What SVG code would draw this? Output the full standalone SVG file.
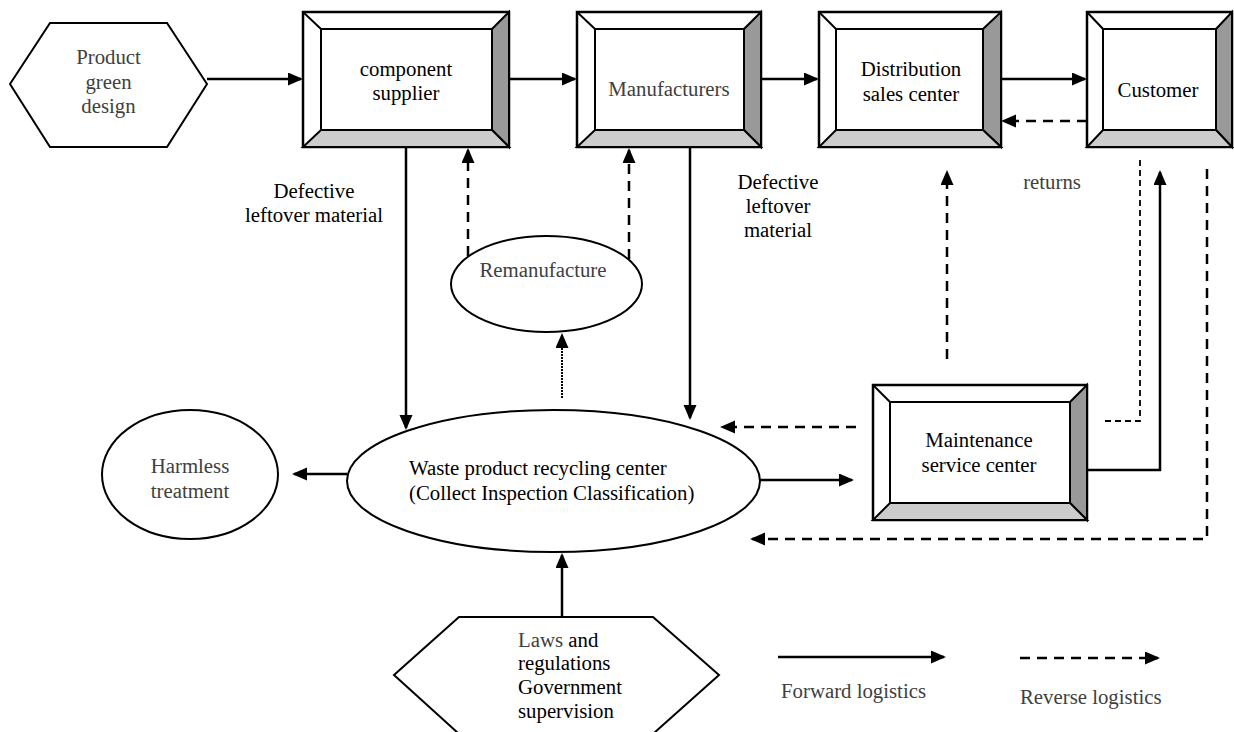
<svg xmlns="http://www.w3.org/2000/svg" width="1234" height="732" viewBox="0 0 1234 732" font-family="'Liberation Serif', 'DejaVu Serif', serif">
<style>
text{font-family:'Liberation Serif','DejaVu Serif',serif;font-size:20.8px;fill:#000}
.g{fill:#404040}
.c{text-anchor:middle}
.shape{fill:#fff;stroke:#000;stroke-width:2}
.outer{fill:#fff;stroke:#000;stroke-width:2.5}
.inner{fill:#fff;stroke:#000;stroke-width:2}
.bot{fill:#cccccc;stroke:#000;stroke-width:2;stroke-linejoin:miter}
.rt{fill:#999999;stroke:#000;stroke-width:2;stroke-linejoin:miter}
.bev{stroke:#000;stroke-width:2}
.fw{fill:none;stroke:#000;stroke-width:2.5;marker-end:url(#ah)}
.rv{fill:none;stroke:#000;stroke-width:2.5;stroke-dasharray:10 7;marker-end:url(#ah)}
.fine{fill:none;stroke:#000;stroke-width:1.8;stroke-dasharray:6 4}
.dot{fill:none;stroke:#000;stroke-width:2;stroke-dasharray:2 1;marker-end:url(#ah)}
</style>
<defs>
<marker id="ah" markerUnits="userSpaceOnUse" markerWidth="16" markerHeight="14" refX="13" refY="6.5" orient="auto">
<path d="M0,0 L15,6.5 L0,13 Z" fill="#000"/>
</marker>
</defs>

<g id="connectors">
<path class="fw" d="M207,79 H301"/>
<path class="fw" d="M509,79 H575"/>
<path class="fw" d="M761,79 H817"/>
<path class="fw" d="M1001,79 H1085"/>
<path class="fw" d="M406,147 V428"/>
<path class="fw" d="M690,147 V418"/>
<path class="fw" d="M347,474 H294"/>
<path class="fw" d="M760,480 H852"/>
<path class="fw" d="M1087,470 H1160 V172"/>
<path class="fw" d="M562,617 V555"/>
<path class="fw" d="M778,657 H944"/>
<path class="rv" d="M1087,121 H1003"/>
<path class="rv" d="M468,256 V150"/>
<path class="rv" d="M629,259 V150"/>
<path class="rv" d="M947,359 V172"/>
<path class="rv" d="M856,427 H722"/>
<path class="rv" d="M1207,169 V539 H752"/>
<path class="fine" d="M1140,160 V421 H1105"/>
<path class="rv" d="M1020,658 H1158"/>
<path class="dot" d="M562,398 V335"/>
</g>

<g id="product-green-design">
<polygon class="shape" points="10,84 50,23 167,23 207,84 167,147 50,147"/>
<text class="c g" x="108.5" y="64">Product</text>
<text class="c g" x="108.5" y="89">green</text>
<text class="c g" x="108.5" y="113">design</text>
</g>

<g id="component-supplier">
<rect class="outer" x="303" y="12" width="206" height="135"/>
<polygon class="rt" points="509,12 509,147 492,130 492,29"/>
<polygon class="bot" points="303,147 509,147 492,130 321,130"/>
<rect class="inner" x="321" y="29" width="171" height="101"/>
<line class="bev" x1="303" y1="12" x2="321" y2="29"/>
<text class="c" x="406" y="76">component</text>
<text class="c" x="406" y="100">supplier</text>
</g>

<g id="manufacturers">
<rect class="outer" x="577" y="12" width="184" height="135"/>
<polygon class="rt" points="761,12 761,147 744,130 744,29"/>
<polygon class="bot" points="577,147 761,147 744,130 595,130"/>
<rect class="inner" x="595" y="29" width="149" height="101"/>
<line class="bev" x1="577" y1="12" x2="595" y2="29"/>
<text class="c g" x="669" y="96">Manufacturers</text>
</g>

<g id="distribution-sales-center">
<rect class="outer" x="819" y="12" width="182" height="135"/>
<polygon class="rt" points="1001,12 1001,147 983,130 983,29"/>
<polygon class="bot" points="819,147 1001,147 983,130 836,130"/>
<rect class="inner" x="836" y="29" width="147" height="101"/>
<line class="bev" x1="819" y1="12" x2="836" y2="29"/>
<text class="c" x="911" y="76">Distribution</text>
<text class="c" x="911" y="101">sales center</text>
</g>

<g id="customer">
<rect class="outer" x="1087" y="12" width="145" height="135"/>
<polygon class="rt" points="1232,12 1232,147 1216,130 1216,29"/>
<polygon class="bot" points="1087,147 1232,147 1216,130 1103,130"/>
<rect class="inner" x="1103" y="29" width="113" height="101"/>
<line class="bev" x1="1087" y1="12" x2="1103" y2="29"/>
<text class="c" x="1158" y="97">Customer</text>
</g>

<g id="maintenance-service-center">
<rect class="outer" x="873" y="385" width="214" height="135"/>
<polygon class="rt" points="1087,385 1087,520 1070,503 1070,402"/>
<polygon class="bot" points="873,520 1087,520 1070,503 890,503"/>
<rect class="inner" x="890" y="402" width="180" height="101"/>
<line class="bev" x1="873" y1="385" x2="890" y2="402"/>
<text class="c" x="979" y="447">Maintenance</text>
<text class="c" x="979" y="472">service center</text>
</g>

<g id="remanufacture">
<ellipse class="shape" cx="546.5" cy="284" rx="95.5" ry="48"/>
<text class="c g" x="543" y="277">Remanufacture</text>
</g>

<g id="recycling-center">
<ellipse class="shape" cx="553.5" cy="481" rx="206.5" ry="71"/>
<text x="409" y="475">Waste product recycling center</text>
<text x="409" y="500">(Collect Inspection Classification)</text>
</g>

<g id="harmless-treatment">
<ellipse class="shape" cx="190" cy="474.5" rx="88" ry="64.5"/>
<text class="c g" x="190" y="473">Harmless</text>
<text class="c g" x="190" y="498">treatment</text>
</g>

<g id="laws-regulations">
<polygon class="shape" points="394,675 459,617 653,617 719,675 654,733 458,733"/>
<text x="518" y="647"><tspan class="g">Laws</tspan> and</text>
<text x="518" y="670">regulations</text>
<text x="518" y="694">Government</text>
<text x="518" y="718">supervision</text>
</g>

<g id="labels">
<text class="c" x="314" y="198">Defective</text>
<text class="c" x="314" y="222">leftover material</text>
<text class="c" x="778" y="189">Defective</text>
<text class="c" x="778" y="213">leftover</text>
<text class="c" x="778" y="237">material</text>
<text class="c g" x="1052" y="189">returns</text>
<text class="g" x="781" y="698">Forward logistics</text>
<text class="g" x="1020" y="704">Reverse logistics</text>
</g>
</svg>
